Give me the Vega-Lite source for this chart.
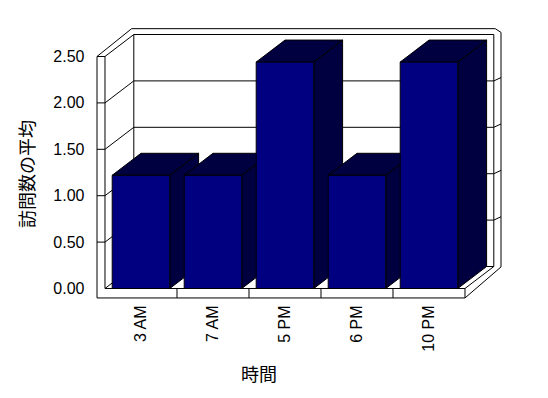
{
  "$schema": "https://vega.github.io/schema/vega-lite/v6.json",
  "width": 404,
  "height": 270,
  "autosize": {"type": "none"},
  "padding": {"left": 97, "top": 28, "right": 47, "bottom": 100},
  "background": "white",
  "config": {"view": {"stroke": null}},
  "datasets": {
    "visits": [
      {"hour": "3 AM", "avg": 1.22},
      {"hour": "7 AM", "avg": 1.22},
      {"hour": "5 PM", "avg": 2.44},
      {"hour": "6 PM", "avg": 1.22},
      {"hour": "10 PM", "avg": 2.44}
    ],
    "ticks": [{"t": 0}, {"t": 0.5}, {"t": 1}, {"t": 1.5}, {"t": 2}, {"t": 2.5}],
    "frame": [
      {"u": -0.111, "v": -0.102, "u2": -0.111, "v2": 2.5},
      {"u": 0, "v": 0, "u2": 0, "v2": 2.5},
      {"u": -0.111, "v": -0.102, "u2": 5, "v2": -0.102},
      {"u": 0, "v": 0, "u2": 5, "v2": 0},
      {"u": 5, "v": -0.102, "u2": 5, "v2": 0},
      {"u": 1, "v": -0.102, "u2": 1, "v2": 0},
      {"u": 2, "v": -0.102, "u2": 2, "v2": 0},
      {"u": 3, "v": -0.102, "u2": 3, "v2": 0},
      {"u": 4, "v": -0.102, "u2": 4, "v2": 0},
      {"u": -0.111, "v": 2.5, "u2": 0.37, "v2": 2.8},
      {"u": 0.37, "v": 2.8, "u2": 5.42, "v2": 2.8},
      {"u": 5.42, "v": 2.8, "u2": 5.5, "v2": 2.76},
      {"u": 5.5, "v": 2.76, "u2": 5.5, "v2": 0.232},
      {"u": 5, "v": -0.102, "u2": 5.5, "v2": 0.232},
      {"u": 5, "v": 0, "u2": 5.4, "v2": 0.237},
      {"u": 0.4, "v": 0.237, "u2": 0.4, "v2": 2.737},
      {"u": 5.4, "v": 0.237, "u2": 5.4, "v2": 2.737}
    ]
  },
  "encoding": {
    "x": {"field": "u", "type": "quantitative", "stack": null, "scale": {"domain": [-0.1111, 5.5], "nice": false, "zero": false}, "axis": null},
    "y": {
      "field": "v", "type": "quantitative", "stack": null,
      "scale": {"domain": [-0.1024, 2.8071], "nice": false, "zero": false},
      "axis": {
        "title": "訪問数の平均",
        "values": [0, 0.5, 1, 1.5, 2, 2.5],
        "format": ".2f",
        "domain": false, "ticks": false, "tickSize": 0, "grid": false,
        "labelPadding": 13,
        "labelFont": "Liberation Sans", "labelFontSize": 16, "labelColor": "black",
        "titleFont": "Noto Sans CJK JP", "titleFontSize": 18, "titleFontWeight": "normal", "titleColor": "black",
        "titleAngle": -90, "titleX": -69, "titleY": 145.5, "titleBaseline": "middle", "titleAlign": "center"
      }
    }
  },
  "layer": [
    {
      "data": {"name": "frame"},
      "mark": {"type": "rule", "color": "black", "strokeWidth": 1},
      "encoding": {"x2": {"field": "u2"}, "y2": {"field": "v2"}}
    },
    {
      "data": {"name": "ticks"},
      "transform": [
        {"calculate": "0", "as": "u"},
        {"calculate": "datum.t", "as": "v"},
        {"calculate": "0.4", "as": "u2"},
        {"calculate": "datum.t + 0.237", "as": "v2"}
      ],
      "mark": {"type": "rule", "color": "black", "strokeWidth": 1},
      "encoding": {"x2": {"field": "u2"}, "y2": {"field": "v2"}}
    },
    {
      "data": {"name": "ticks"},
      "transform": [
        {"calculate": "0.4", "as": "u"},
        {"calculate": "datum.t + 0.237", "as": "v"},
        {"calculate": "5.4", "as": "u2"},
        {"calculate": "datum.t + 0.237", "as": "v2"}
      ],
      "mark": {"type": "rule", "color": "black", "strokeWidth": 1},
      "encoding": {"x2": {"field": "u2"}, "y2": {"field": "v2"}}
    },
    {
      "data": {"name": "ticks"},
      "transform": [
        {"filter": "datum.t > 0"},
        {"calculate": "-0.111", "as": "u"},
        {"calculate": "datum.t", "as": "v"},
        {"calculate": "0", "as": "u2"},
        {"calculate": "datum.t", "as": "v2"}
      ],
      "mark": {"type": "rule", "color": "black", "strokeWidth": 1},
      "encoding": {"x2": {"field": "u2"}, "y2": {"field": "v2"}}
    },
    {
      "data": {"name": "ticks"},
      "transform": [
        {"filter": "datum.t > 0 && datum.t < 2.5"},
        {"calculate": "5.4", "as": "u"},
        {"calculate": "datum.t + 0.237", "as": "v"},
        {"calculate": "5.5", "as": "u2"},
        {"calculate": "datum.t + 0.273", "as": "v2"}
      ],
      "mark": {"type": "rule", "color": "black", "strokeWidth": 1},
      "encoding": {"x2": {"field": "u2"}, "y2": {"field": "v2"}}
    },
    {
      "data": {"name": "visits"},
      "transform": [
        {"window": [{"op": "row_number", "as": "n"}]},
        {"calculate": "[0, 1]", "as": "k"},
        {"flatten": ["k"]},
        {"calculate": "datum.n - 0.1 + 0.4 * datum.k", "as": "u"},
        {"calculate": "0.237 * datum.k", "as": "v"},
        {"calculate": "datum.avg + 0.237 * datum.k", "as": "v2"}
      ],
      "mark": {"type": "area", "orient": "vertical", "fill": "#000040", "stroke": "black", "strokeWidth": 1},
      "encoding": {"y2": {"field": "v2"}, "detail": {"field": "hour"}}
    },
    {
      "data": {"name": "visits"},
      "transform": [
        {"window": [{"op": "row_number", "as": "n"}]},
        {"calculate": "[0, 1]", "as": "k"},
        {"flatten": ["k"]},
        {"calculate": "datum.n - 0.9 + 0.4 * datum.k", "as": "u"},
        {"calculate": "datum.n - 0.1 + 0.4 * datum.k", "as": "u2"},
        {"calculate": "datum.avg + 0.237 * datum.k", "as": "v"}
      ],
      "mark": {"type": "area", "orient": "horizontal", "fill": "#000040", "stroke": "black", "strokeWidth": 1},
      "encoding": {"x2": {"field": "u2"}, "detail": {"field": "hour"}}
    },
    {
      "data": {"name": "visits"},
      "transform": [
        {"window": [{"op": "row_number", "as": "n"}]},
        {"calculate": "datum.n - 0.9", "as": "u"},
        {"calculate": "datum.n - 0.1", "as": "u2"},
        {"calculate": "0", "as": "v"},
        {"calculate": "datum.avg", "as": "v2"}
      ],
      "mark": {"type": "rect", "fill": "#000080", "stroke": "black", "strokeWidth": 1},
      "encoding": {"x2": {"field": "u2"}, "y2": {"field": "v2"}}
    },
    {
      "data": {"name": "visits"},
      "transform": [
        {"calculate": "datum.avg", "as": "v"}
      ],
      "mark": {"type": "point", "opacity": 0},
      "encoding": {
        "x": {
          "field": "hour", "type": "nominal", "sort": null,
          "scale": {"type": "band", "paddingInner": 0, "paddingOuter": 0.30556, "align": 0.18182},
          "axis": {
            "title": "時間",
            "labelAngle": -90, "labelPadding": 7,
            "ticks": false, "tickSize": 0, "domain": false, "grid": false,
            "labelFont": "Liberation Sans", "labelFontSize": 16, "labelColor": "black",
            "titleFont": "Noto Sans CJK JP", "titleFontSize": 18, "titleFontWeight": "normal", "titleColor": "black",
            "titleX": 161.5, "titleY": 77, "titleBaseline": "middle", "titleAlign": "center"
          }
        }
      }
    }
  ],
  "resolve": {"scale": {"x": "independent"}}
}
